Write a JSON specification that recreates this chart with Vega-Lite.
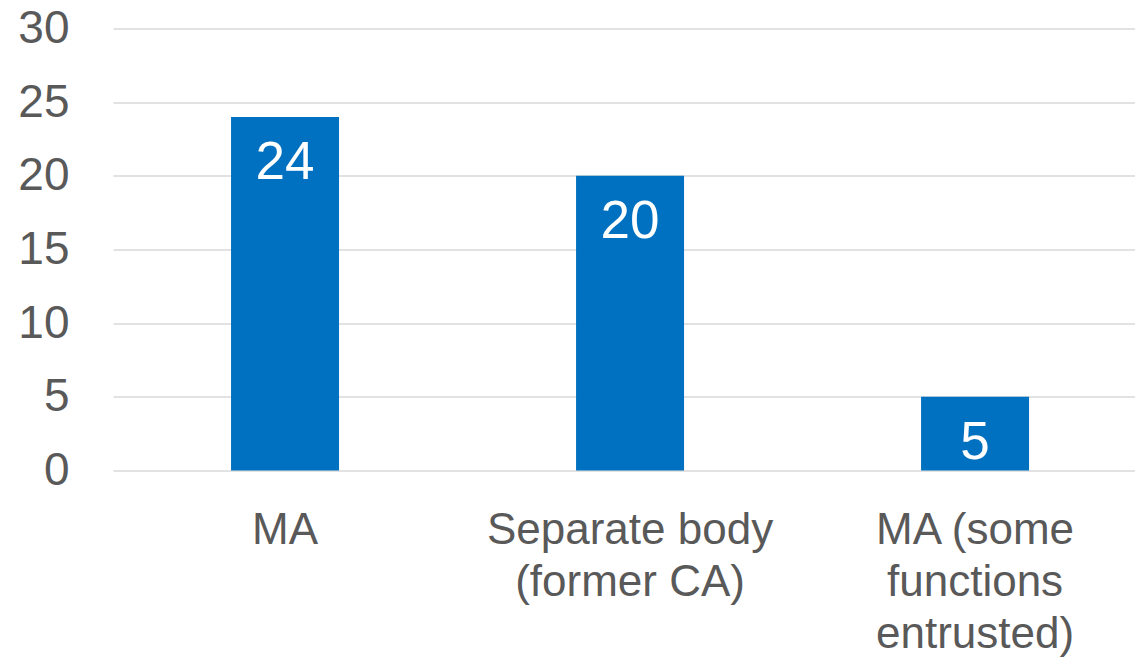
{
  "$schema": "https://vega.github.io/schema/vega-lite/v6.json",
  "width": 1022,
  "height": 442,
  "autosize": {"type": "none"},
  "padding": {"left": 113, "top": 28.5, "right": 0, "bottom": 188.5},
  "background": "white",
  "config": {
    "view": {"stroke": null},
    "font": "Liberation Sans"
  },
  "data": {
    "values": [
      {"category": "MA", "count": 24},
      {"category": "Separate body|(former CA)", "count": 20},
      {"category": "MA (some|functions|entrusted)", "count": 5}
    ]
  },
  "encoding": {
    "x": {
      "field": "category",
      "type": "nominal",
      "sort": null,
      "scale": {"paddingInner": 0.687, "paddingOuter": 0.3246, "align": 0.527},
      "axis": {
        "title": null,
        "labelExpr": "split(datum.label, '|')",
        "labelAngle": 0,
        "labelFont": "Liberation Sans",
        "labelFontSize": 44,
        "labelColor": "#595959",
        "labelLineHeight": 52,
        "labelPadding": 38,
        "labelLimit": 0,
        "ticks": false,
        "domain": false,
        "grid": false
      }
    },
    "y": {
      "field": "count",
      "type": "quantitative",
      "scale": {"domain": [0, 30], "nice": false},
      "axis": {
        "title": null,
        "values": [0, 5, 10, 15, 20, 25, 30],
        "labelFont": "Liberation Sans",
        "labelFontSize": 46,
        "labelColor": "#595959",
        "labelPadding": 44,
        "ticks": false,
        "domain": false,
        "grid": true,
        "gridColor": "#d9d9d9",
        "gridWidth": 1.5
      }
    }
  },
  "layer": [
    {"mark": {"type": "bar", "color": "#0070C0"}},
    {
      "mark": {
        "type": "text",
        "color": "white",
        "font": "Liberation Sans",
        "fontSize": 53,
        "baseline": "alphabetic",
        "dy": 62
      },
      "encoding": {"text": {"field": "count", "type": "quantitative"}}
    }
  ]
}
